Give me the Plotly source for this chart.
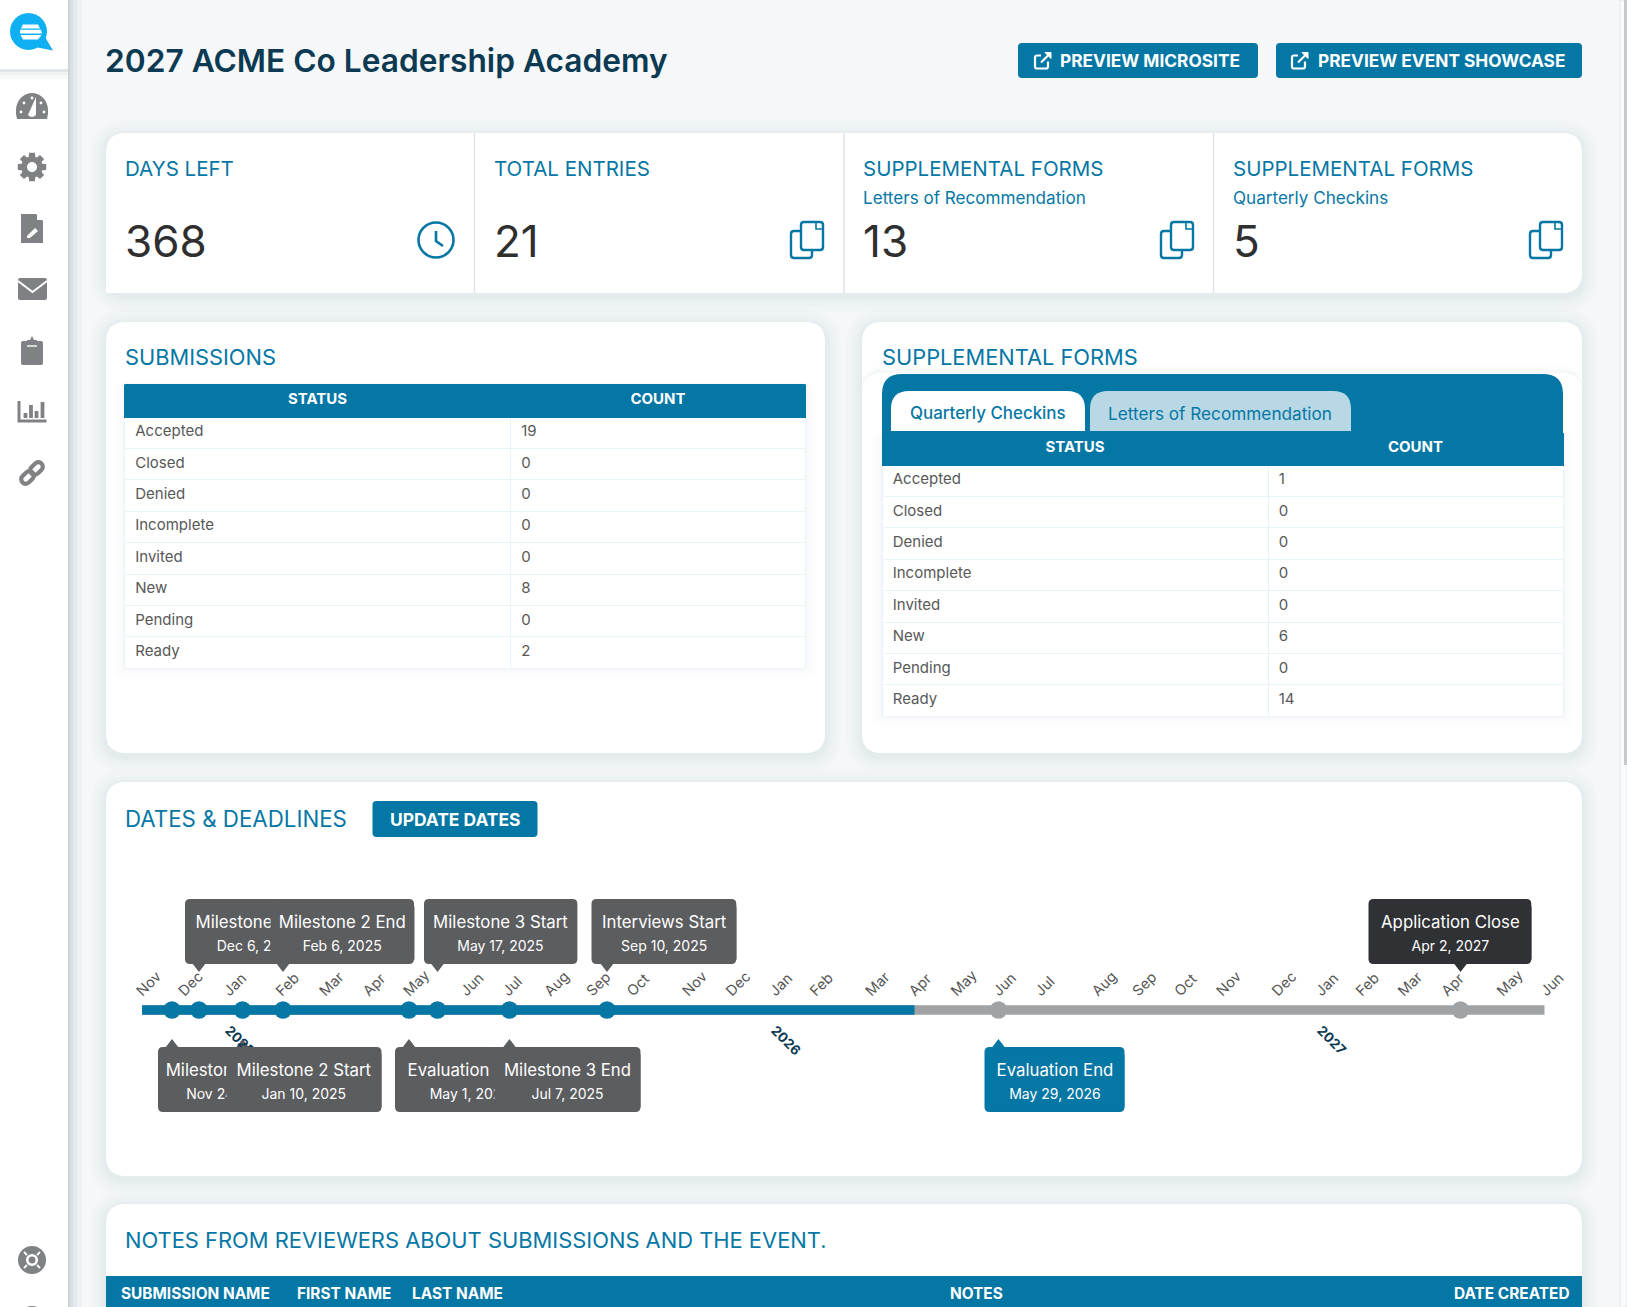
import math

import plotly.graph_objects as go

W, H = 1627, 1307
BLUE = "#0577a5"
GRAY_BAR = "#a0a3a6"
ICON = "#808184"
FONT = "Inter"

page_title = "2027 ACME Co Leadership Academy"
buttons = ["PREVIEW MICROSITE", "PREVIEW EVENT SHOWCASE"]

kpi_titles = ["DAYS LEFT", "TOTAL ENTRIES", "SUPPLEMENTAL FORMS", "SUPPLEMENTAL FORMS"]
kpi_subtitles = ["", "", "Letters of Recommendation", "Quarterly Checkins"]
kpi_values = ["368", "21", "13", "5"]

statuses = ["Accepted", "Closed", "Denied", "Incomplete", "Invited", "New", "Pending", "Ready"]
submission_counts = [19, 0, 0, 0, 0, 8, 0, 2]
supplemental_counts = [1, 0, 0, 0, 0, 6, 0, 14]
table_headers = ["STATUS", "COUNT"]
tabs = ["Quarterly Checkins", "Letters of Recommendation"]

# positions on the timeline
bar_start = "2024-11-04"
bar_today = "2026-04-03"
bar_end = "2027-05-28"

top_names = ["Milestone 1 End", "Milestone 2 End", "Milestone 3 Start", "Interviews Start", "Application Close"]
top_labels = ["Dec 6, 2024", "Feb 6, 2025", "May 17, 2025", "Sep 10, 2025", "Apr 2, 2027"]
top_dates = ["2024-12-12", "2025-02-06", "2025-05-20", "2025-09-10", "2027-04-02"]
top_colors = ["#5c5d5f", "#5c5d5f", "#5c5d5f", "#5c5d5f", "#303134"]

bottom_names = ["Milestone 1 Start", "Milestone 2 Start", "Evaluation Start", "Milestone 3 End", "Evaluation End"]
bottom_labels = ["Nov 24, 2024", "Jan 10, 2025", "May 1, 2025", "Jul 7, 2025", "May 29, 2026"]
bottom_dates = ["2024-11-24", "2025-01-10", "2025-05-01", "2025-07-07", "2026-05-29"]
bottom_colors = ["#5c5d5f", "#5c5d5f", "#5c5d5f", "#5c5d5f", BLUE]

month_labels = ["Nov", "Dec", "Jan", "Feb", "Mar", "Apr", "May", "Jun", "Jul", "Aug", "Sep", "Oct",
                "Nov", "Dec", "Jan", "Feb", "Mar", "Apr", "May", "Jun", "Jul", "Aug", "Sep", "Oct",
                "Nov", "Dec", "Jan", "Feb", "Mar", "Apr", "May", "Jun"]
month_ticks = ["2024-11-01", "2024-11-29", "2024-12-29", "2025-02-02", "2025-03-03", "2025-04-01",
               "2025-04-28", "2025-06-05", "2025-07-03", "2025-07-31", "2025-08-28", "2025-09-24",
               "2025-10-31", "2025-11-29", "2025-12-28", "2026-01-24", "2026-03-02", "2026-03-31",
               "2026-04-28", "2026-05-26", "2026-06-23", "2026-07-31", "2026-08-27", "2026-09-24",
               "2026-10-22", "2026-11-28", "2026-12-27", "2027-01-23", "2027-02-20", "2027-03-21",
               "2027-04-27", "2027-05-26"]
year_labels = ["2025", "2026", "2027"]
year_ticks = ["2025-01-01", "2025-12-31", "2026-12-30"]

notes_columns = ["SUBMISSION NAME", "FIRST NAME", "LAST NAME", "NOTES", "DATE CREATED"]

shapes = []
annotations = []


def add_path(path, fill=None, line=None, width=0, opacity=1, layer="below"):
    shapes.append(dict(type="path", path=path, xref="x", yref="y", fillcolor=fill or "rgba(0,0,0,0)",
                       line=dict(color=line or "rgba(0,0,0,0)", width=width), opacity=opacity, layer=layer))


def rrect(x0, y0, x1, y1, r=0, r_bl=None):
    r_bl = r if r_bl is None else r_bl
    return (f"M {x0+r} {y0} L {x1-r} {y0} Q {x1} {y0} {x1} {y0+r} L {x1} {y1-r} Q {x1} {y1} {x1-r} {y1} "
            f"L {x0+r_bl} {y1} Q {x0} {y1} {x0} {y1-r_bl} L {x0} {y0+r} Q {x0} {y0} {x0+r} {y0} Z")


def circle(cx, cy, r):
    k = 0.5523 * r
    return (f"M {cx-r} {cy} C {cx-r} {cy-k} {cx-k} {cy-r} {cx} {cy-r} C {cx+k} {cy-r} {cx+r} {cy-k} {cx+r} {cy} "
            f"C {cx+r} {cy+k} {cx+k} {cy+r} {cx} {cy+r} C {cx-k} {cy+r} {cx-r} {cy+k} {cx-r} {cy} Z")


def stadium(cx, cy, half, r, angle):
    ux, uy = math.cos(angle), math.sin(angle)
    vx, vy = -uy, ux

    def pt(a, b):
        return f"{cx + ux*a + vx*b:.1f} {cy + uy*a + vy*b:.1f}"

    k = 1.33 * r
    return (f"M {pt(half, r)} C {pt(half+k, r)} {pt(half+k, -r)} {pt(half, -r)} L {pt(-half, -r)} "
            f"C {pt(-half-k, -r)} {pt(-half-k, r)} {pt(-half, r)} Z")


def card(x0, y0, x1, y1, r=20, r_bl=None):
    # soft css box shadow, built from a few faint layers
    for grow in [16, 12, 9, 6, 4, 2]:
        add_path(rrect(x0 - grow, y0 - grow + 3, x1 + grow, y1 + grow + 3, r + grow), fill="#16394d", opacity=0.013)
    add_path(rrect(x0, y0, x1, y1, r, r_bl), fill="white")


def soft_box(x0, y0, x1, y1):
    # faint halo and border behind a table
    for grow in [10, 6, 3]:
        add_path(rrect(x0 - grow, y0, x1 + grow, y1 + grow, 4), fill="#16394d", opacity=0.008)
    add_path(f"M {x0} {y0} L {x1} {y0} L {x1} {y1} L {x0} {y1} Z", fill="white", line="#e4f1f7", width=1)


def label(x, y, text, size, color, anchor="left", weight=400):
    annotations.append(dict(x=x, y=y, xref="x", yref="y", text=text, showarrow=False, xanchor=anchor, yanchor="middle",
                            font=dict(family=FONT, size=size, color=color, weight=weight)))


def ext_link_icon(cx, cy):
    add_path(rrect(cx - 8, cy - 5, cx + 5, cy + 8, 2), line="white", width=2.2, layer="above")
    add_path(rrect(cx - 2, cy - 8, cx + 9, cy + 1, 0), fill=BLUE, layer="above")
    add_path(f"M {cx-2} {cy+2} L {cx+7} {cy-7}", line="white", width=2.2, layer="above")
    add_path(f"M {cx+2} {cy-8} L {cx+8} {cy-8} L {cx+8} {cy-2} Z", fill="white", line="white", width=1, layer="above")


def copy_icon(cx, cy):
    add_path(rrect(cx - 16, cy - 9, cx + 5, cy + 18, 3), line=BLUE, width=2.4)
    add_path(rrect(cx - 6, cy - 18, cx + 16, cy + 10, 3), fill="white", line=BLUE, width=2.4)
    add_path(f"M {cx+9} {cy-17} L {cx+9} {cy-11} L {cx+15} {cy-11}", line=BLUE, width=1.6)


def clock_icon(cx, cy):
    add_path(circle(cx, cy, 17.5), line=BLUE, width=2.6)
    add_path(f"M {cx} {cy-9} L {cx} {cy+1} L {cx+7} {cy+6}", line=BLUE, width=2.6)


def gear_path(cx, cy, r_out, r_in, teeth=8):
    pts = []
    step = 2 * math.pi / teeth
    for i in range(teeth):
        a = i * step
        for da, r in [(-0.30, r_in), (-0.20, r_out), (0.20, r_out), (0.30, r_in)]:
            pts.append((cx + r * math.cos(a + da), cy + r * math.sin(a + da)))
    return "M " + " L ".join(f"{px:.1f} {py:.1f}" for px, py in pts) + " Z"


# page, scrollbar, sidebar
add_path(f"M 0 0 L {W} 0 L {W} {H} L 0 {H} Z", fill="#f5f7f9")
add_path(f"M 1620 0 L {W} 0 L {W} {H} L 1620 {H} Z", fill="#fafbfc", line="#e6e8ea", width=1)
add_path("M 1624 0 L 1627 0 L 1627 765 L 1624 765 Z", fill="#c8c9cb")
for grow, op in [(14, 0.03), (9, 0.04), (5, 0.05), (2, 0.07)]:
    add_path(f"M 0 0 L {68+grow} 0 L {68+grow} {H} L 0 {H} Z", fill="#16394d", opacity=op)
add_path(f"M 0 0 L 68 0 L 68 {H} L 0 {H} Z", fill="white")
for grow, op in [(10, 0.03), (6, 0.04), (3, 0.06)]:
    add_path(f"M 0 0 L 68 0 L 68 {69+grow} L 0 {69+grow} Z", fill="#16394d", opacity=op)
add_path("M 0 0 L 68 0 L 68 69 L 0 69 Z", fill="white")

# logo
add_path(circle(28.5, 31.5, 18.5), fill="#0fb0f2")
add_path("M 35 47 L 53 50.5 L 45 37 Z", fill="#0fb0f2")
add_path("M 23 24.5 L 38 24.5 L 40 28.5 L 21 28.5 Z", fill="white")
add_path("M 20 29.8 L 41 29.8 L 42 33.5 L 20 33.5 Z", fill="white")
add_path("M 20.5 35 L 41.5 35 L 38 39.5 L 23 39.5 Z", fill="white")

# sidebar icons
add_path("M 17 119 Q 15.5 114 16 110 C 16 100 24 93 32 93 C 40 93 48 100 48 110 Q 48.5 114 47 119 Z", fill=ICON)
add_path("M 28 115 Q 32 119 36 115 L 36 97 Z", fill="white")
for dx, dy in [(21, 112), (24, 103), (41, 103), (44, 112), (32, 98)]:
    add_path(circle(dx, dy, 1.4), fill="white")
add_path(gear_path(32, 167, 14.5, 10.8), fill=ICON)
add_path(circle(32, 167, 5), fill="white")
add_path("M 21 214 L 36 214 L 43 221 L 43 243 L 21 243 Z", fill=ICON)
add_path("M 37 214 L 43 220 L 37 220 Z", fill="white")
add_path("M 27 236 L 35 228 L 38 231 L 30 238 L 27 238 Z", fill="white")
add_path(rrect(18, 278, 47, 300, 2), fill=ICON)
add_path("M 18 281 L 32.5 292 L 47 281", line="white", width=2)
add_path(rrect(21, 341, 43, 365, 2), fill=ICON)
add_path("M 27 340 L 30 340 L 32 336 L 34 340 L 37 340 L 37 343 L 27 343 Z", fill=ICON)
add_path("M 27 346 L 37 346", line="white", width=1.4)
add_path("M 19 401 L 19 421 L 46.5 421", line=ICON, width=3)
for bx, top in [(25.5, 413), (31, 405), (36.5, 411), (42.5, 402)]:
    add_path(f"M {bx} 418 L {bx} {top}", line=ICON, width=3.8)
add_path(stadium(27.5, 477.5, 2.5, 4.5, -math.pi / 4), line=ICON, width=4.2)
add_path(stadium(36.5, 468.5, 2.5, 4.5, -math.pi / 4), line=ICON, width=4.2)
add_path(circle(32, 1260, 14), fill=ICON)
add_path(circle(32, 1260, 4.8), fill=ICON, line="white", width=2.6)
for x1, y1, x2, y2 in [(24, 1252, 27, 1255), (40, 1252, 37, 1255), (24, 1268, 27, 1265), (40, 1268, 37, 1265)]:
    add_path(f"M {x1} {y1} L {x2} {y2}", line="white", width=1.8)
add_path(circle(32, 1320, 14), fill=ICON)

# title bar
label(103, 60, page_title, 31.7, "#0b3a52", weight=600)
for (x0, x1, icon_x, text_x), text in zip([(1018, 1258, 1043, 1058), (1276, 1582, 1300, 1316)], buttons):
    add_path(rrect(x0, 43, x1, 78, 4), fill=BLUE)
    ext_link_icon(icon_x, 60.5)
    label(text_x, 60.5, text, 17.3, "white", weight=700)

# kpi strip
card(106, 133, 1582, 293, 20, 0)
for x in [474.5, 844, 1213.5]:
    add_path(f"M {x} 133 L {x} 293", line="#dfe3e6", width=1.4)
for i, x in enumerate([122.5, 491.5, 860.5, 1230.5]):
    label(x, 168, kpi_titles[i], 20.5, BLUE)
    if kpi_subtitles[i]:
        label(x, 197, kpi_subtitles[i], 17.1, BLUE)
    label(x, 241, kpi_values[i], 44, "#2f2f2f")
clock_icon(436, 240)
for x in [807, 1177, 1546]:
    copy_icon(x, 240)

# status cards
card(106, 322, 825, 753)
label(122.5, 357, "SUBMISSIONS", 21.8, BLUE)
soft_box(124.5, 384, 805.5, 668)
card(862, 322, 1582, 753)
label(879.5, 357, "SUPPLEMENTAL FORMS", 21.8, BLUE)
for grow, op in [(7, 0.012), (4, 0.014), (2, 0.016)]:
    add_path(rrect(862, 373 - grow, 1582, 420, 20), fill="#16394d", opacity=op)
add_path(rrect(862, 373, 1582, 753, 20), fill="white")
add_path(rrect(882, 374, 1563, 470, 20, 0), fill=BLUE)
add_path("M 882 465 L 1563 465 L 1563 474 L 882 474 Z", fill="white")
soft_box(882, 433, 1563, 716)
add_path("M 882 425 L 1563 425 L 1563 436 L 882 436 Z", fill=BLUE)
add_path("M 891 431 L 891 409 Q 891 391 909 391 L 1067 391 Q 1085 391 1085 409 L 1085 431 Z", fill="white")
add_path("M 1090 431 L 1090 409 Q 1090 391 1108 391 L 1333 391 Q 1351 391 1351 409 L 1351 431 Z", fill="#b8d8e5")
label(988, 413, tabs[0], 16.9, BLUE, anchor="center", weight=500)
label(1220, 413, tabs[1], 17.2, BLUE, anchor="center")

# dates card
card(106, 782, 1582, 1176)
label(122.5, 818, "DATES &amp; DEADLINES", 22.3, BLUE)
add_path(rrect(372.5, 801, 537.5, 837, 4), fill=BLUE)
label(455, 819, "UPDATE DATES", 17.4, "white", anchor="center", weight=700)

# notes card, runs off the bottom of the window
card(106, 1204, 1582, 1340)
label(122.5, 1240, "NOTES FROM REVIEWERS ABOUT SUBMISSIONS AND THE EVENT.", 21.9, BLUE)
add_path(f"M 106 1276 L 1582 1276 L 1582 {H} L 106 {H} Z", fill=BLUE)
for x, text, anchor in zip([119, 295, 410, 976, 1572], notes_columns, ["left", "left", "left", "center", "right"]):
    label(x, 1293, text, 15.4, "white", anchor=anchor, weight=700)

# header strip above the first table's first pixel row
add_path("M 124.5 384 L 805.5 384 L 805.5 390 L 124.5 390 Z", fill=BLUE)

fig = go.Figure()


def status_table(counts, x0, x1, y0, y1, first_col):
    fig.add_trace(go.Table(
        domain=dict(x=[x0 / W, x1 / W], y=[1 - y1 / H, 1 - y0 / H]),
        columnwidth=[first_col, x1 - x0 - first_col],
        header=dict(values=table_headers, fill_color=BLUE, height=32, align="center", line_color=BLUE,
                    font=dict(family=FONT, size=15, color="white", weight=700)),
        cells=dict(values=[statuses, counts], fill_color="white", height=31.4, align="left", line_color="#e8f4fa",
                   prefix="\u2009", font=dict(family=FONT, size=15, color="#585858")),
    ))


status_table(submission_counts, 124.5, 805.5, 385, 668.2, 386)
status_table(supplemental_counts, 882, 1563, 433, 716.2, 386)

# timeline
common = dict(xaxis="x2", yaxis="y2", hoverinfo="skip", showlegend=False, cliponaxis=False)
fig.add_trace(go.Scatter(x=[bar_start, bar_end], y=[0, 0], mode="lines", line=dict(color=GRAY_BAR, width=9.5), **common))
fig.add_trace(go.Scatter(x=[bar_start, bar_today], y=[0, 0], mode="lines", line=dict(color=BLUE, width=9.5), **common))
all_dates = top_dates + bottom_dates
dot_colors = [BLUE if d < bar_today else GRAY_BAR for d in all_dates]
fig.add_trace(go.Scatter(x=all_dates, y=[0] * len(all_dates), mode="markers",
                         marker=dict(size=17.5, color=dot_colors), **common))
fig.add_trace(go.Scatter(x=top_dates, y=[-45] * len(top_dates), mode="markers",
                         marker=dict(size=14, symbol="triangle-down", color=top_colors), **common))
fig.add_trace(go.Scatter(x=bottom_dates, y=[36] * len(bottom_dates), mode="markers",
                         marker=dict(size=14, symbol="triangle-up", color=bottom_colors), **common))
fig.add_trace(go.Scatter(x=[bar_start], y=[0], mode="none", xaxis="x3", yaxis="y2", hoverinfo="skip", showlegend=False))


def callout(name, when, day, color, y, width, shift):
    # rounded body anchored on the date, plus an inset band that carries the text and hides the box beneath
    shapes.append(dict(type="path", xref="x2", yref="y2", xsizemode="pixel", ysizemode="pixel", xanchor=day, yanchor=y,
                       path=rrect(shift, -32.5, shift + width, 32.5, 5), fillcolor=color, line=dict(width=0), layer="above"))
    annotations.append(dict(
        x=day, y=y + 1, xref="x2", yref="y2", xanchor="left", yanchor="middle", xshift=shift, showarrow=False,
        width=width - 2, height=52, bgcolor=color, align="center", valign="middle", borderpad=0,
        text=f'<span style="font-size:16.8px">{name}</span><br><span style="font-size:14px">{when}</span>',
        font=dict(family=FONT, size=17.5, color="white"),
    ))


top_widths = [144.5, 144.5, 153.4, 144.8, 162.8]
top_shifts = [-14, -13.5, -13.5, -15.5, -92]
bottom_widths = [147, 156, 150, 147, 140]
bottom_shifts = [-14, -17, -14, -16, -14]
for i in range(5):
    callout(bottom_names[i], bottom_labels[i], bottom_dates[i], bottom_colors[i], 69.5, bottom_widths[i], bottom_shifts[i])
for i in range(5):
    callout(top_names[i], top_labels[i], top_dates[i], top_colors[i], -78.5, top_widths[i], top_shifts[i])

x_range = ["2024-10-07", "2027-07-04"]
x_domain = [100 / W, 1600 / W]
fig.update_layout(
    width=W,
    height=H,
    margin=dict(l=0, r=0, t=0, b=0),
    paper_bgcolor="#f5f7f9",
    plot_bgcolor="rgba(0,0,0,0)",
    showlegend=False,
    shapes=shapes,
    annotations=annotations,
    font=dict(family=FONT),
    xaxis=dict(range=[0, W], domain=[0, 1], visible=False, fixedrange=True),
    yaxis=dict(range=[H, 0], domain=[0, 1], visible=False, fixedrange=True),
    xaxis2=dict(type="date", range=x_range, domain=x_domain, anchor="free", position=1 - 1002 / H, side="top",
                tickmode="array", tickvals=month_ticks, ticktext=month_labels, tickangle=-45, showgrid=False,
                showline=False, zeroline=False, ticks="", tickfont=dict(family=FONT, size=14.5, color="#555555")),
    xaxis3=dict(type="date", range=x_range, domain=x_domain, anchor="free", position=1 - 1019 / H, side="bottom",
                overlaying="x2", tickmode="array", tickvals=year_ticks, ticktext=year_labels, tickangle=45,
                showgrid=False, showline=False, zeroline=False, ticks="",
                tickfont=dict(family=FONT, size=13.5, color="#0b3a52", weight=700)),
    yaxis2=dict(range=[130, -130], domain=[1 - 1140 / H, 1 - 880 / H], visible=False, anchor="x2", fixedrange=True),
)

fig.write_html("out.html", config={"displayModeBar": False},
               post_script="document.body.style.margin='0';document.body.style.overflow='hidden';")
